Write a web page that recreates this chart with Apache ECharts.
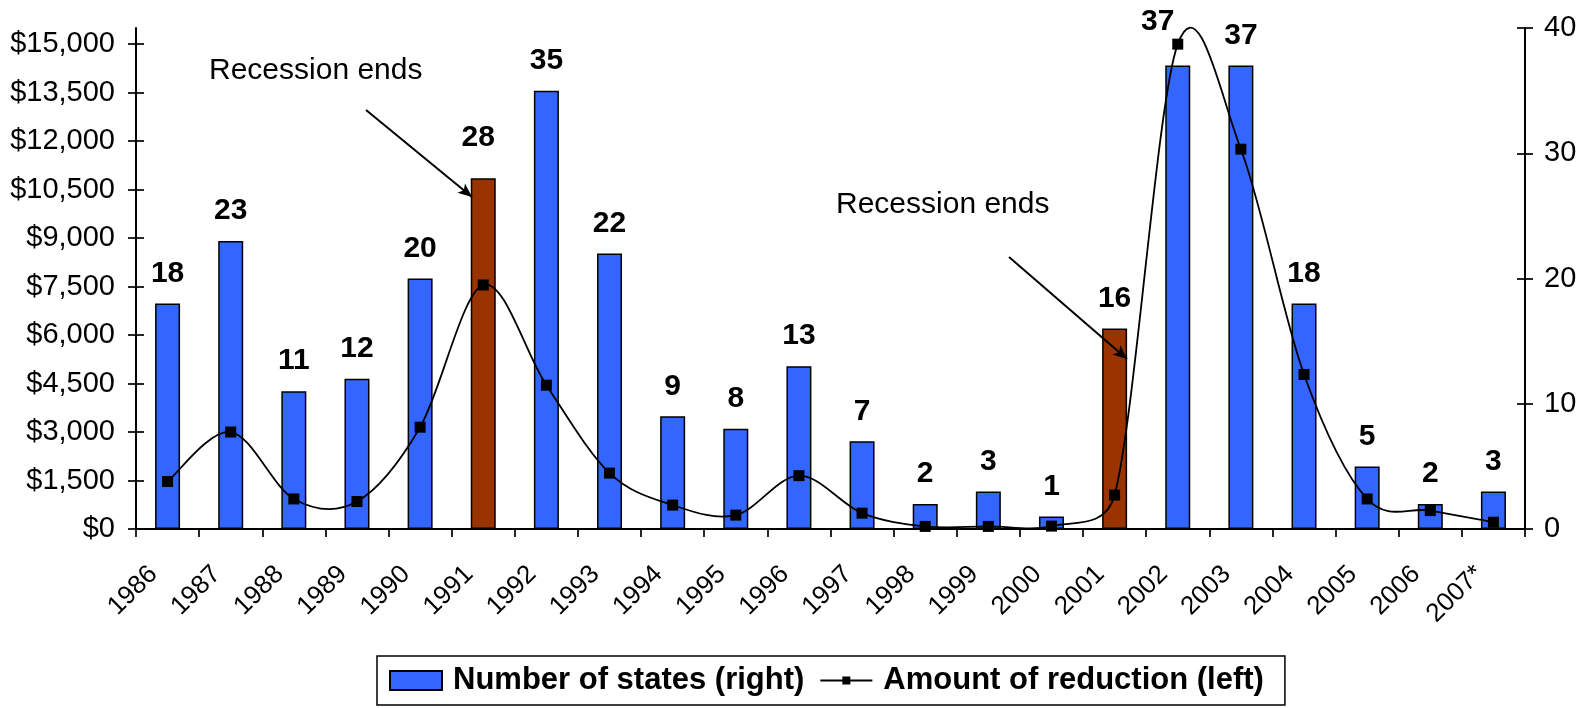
<!DOCTYPE html>
<html>
<head>
<meta charset="utf-8">
<script src="https://cdn.jsdelivr.net/npm/echarts@6/dist/echarts.min.js"></script>
<style>
  html, body { margin: 0; padding: 0; background: #fff; }
  #chart { width: 1591px; height: 708px; }
</style>
</head>
<body>
<div id="chart"></div>
<script>
  // values
  var years = ['1986', '1987', '1988', '1989', '1990', '1991', '1992', '1993', '1994', '1995', '1996',
               '1997', '1998', '1999', '2000', '2001', '2002', '2003', '2004', '2005', '2006', '2007*'];
  var numStates = [18, 23, 11, 12, 20, 28, 35, 22, 9, 8, 13, 7, 2, 3, 1, 16, 37, 37, 18, 5, 2, 3];
  var reduction = [1470, 3000, 930, 850, 3150, 7550, 4450, 1730, 740, 430, 1650, 490, 80, 80, 90,
                   1050, 15000, 11750, 4780, 930, 570, 210];
  var recessionYears = ['1991', '2001'];
  var leftTicks = [0, 1500, 3000, 4500, 6000, 7500, 9000, 10500, 12000, 13500, 15000];
  var rightTicks = [0, 10, 20, 30, 40];

  var FONT = '"Liberation Sans", Arial, sans-serif';
  var BLUE = '#3366FF';
  var BROWN = '#993300';

  // grid box (pixels)
  var G = { left: 136, right: 66, top: 28, bottom: 179 };

  // a few bar labels were nudged by hand in the original
  var labelNudge = { '1991': [-5, -11], '2002': [-20, -14] };

  var barData = years.map(function (y, i) {
    var item = {
      value: numStates[i],
      itemStyle: { color: recessionYears.indexOf(y) >= 0 ? BROWN : BLUE }
    };
    if (labelNudge[y]) item.label = { offset: labelNudge[y] };
    return item;
  });

  var lineData = reduction.map(function (v, i) { return [years[i], v]; });

  function dollar(v) {
    return '$' + Number(v).toLocaleString('en-US');
  }

  // control arm: (b - a) / 6, but never longer than half the segment
  function arm(a, b, segLen) {
    var dx = (b[0] - a[0]) / 6, dy = (b[1] - a[1]) / 6;
    var len = Math.sqrt(dx * dx + dy * dy);
    if (len > segLen / 2 && len > 0) {
      var k = segLen / 2 / len;
      dx *= k; dy *= k;
    }
    return [dx, dy];
  }

  // Excel-style smoothed line, marker on each point
  function renderReduction(params, api) {
    var n = reduction.length;
    var i = params.dataIndex;
    function P(k) {
      k = Math.max(0, Math.min(n - 1, k));
      return api.coord([api.value(0, k), api.value(1, k)]);
    }
    var children = [];
    var p1 = P(i);
    if (i < n - 1) {
      var p0 = P(i - 1), p2 = P(i + 1), p3 = P(i + 2);
      var seg = Math.sqrt(Math.pow(p2[0] - p1[0], 2) + Math.pow(p2[1] - p1[1], 2));
      var a1 = arm(p0, p2, seg);
      var a2 = arm(p1, p3, seg);
      children.push({
        type: 'bezierCurve',
        shape: {
          x1: p1[0], y1: p1[1],
          cpx1: p1[0] + a1[0], cpy1: p1[1] + a1[1],
          cpx2: p2[0] - a2[0], cpy2: p2[1] - a2[1],
          x2: p2[0], y2: p2[1]
        },
        style: { stroke: '#000', lineWidth: 1.8, fill: null }
      });
    }
    children.push({
      type: 'rect',
      shape: { x: p1[0] - 5.5, y: p1[1] - 5.5, width: 11, height: 11 },
      style: { fill: '#000' },
      z2: 10
    });
    return { type: 'group', children: children };
  }

  var axisLineStyle = { color: '#000', width: 2 };
  var tickStyle = { color: '#000', width: 1.7 };

  var chart = echarts.init(document.getElementById('chart'));
  chart.setOption({
    animation: false,
    backgroundColor: '#fff',
    grid: [
      { left: G.left, right: G.right, top: G.top, bottom: G.bottom },
      { left: G.left, right: G.right, top: G.top, bottom: G.bottom }
    ],
    xAxis: [
      {
        type: 'category',
        gridIndex: 0,
        data: years,
        boundaryGap: true,
        axisLine: { lineStyle: axisLineStyle },
        axisTick: { show: true, length: 8, lineStyle: tickStyle },
        axisLabel: {
          rotate: 45,
          interval: 0,
          margin: 27,
          padding: [0, 20, 0, 0],
          fontSize: 26,
          fontFamily: FONT,
          color: '#000'
        }
      },
      { type: 'category', gridIndex: 1, data: years, show: false }
    ],
    yAxis: [
      {
        type: 'value',
        gridIndex: 0,
        position: 'left',
        min: 0,
        max: 15500,
        axisLine: { show: true, lineStyle: axisLineStyle },
        axisTick: { show: true, length: 8, lineStyle: tickStyle, customValues: leftTicks },
        axisLabel: {
          customValues: leftTicks,
          formatter: dollar,
          margin: 21,
          fontSize: 29,
          fontFamily: FONT,
          color: '#000'
        },
        splitLine: { show: false }
      },
      {
        type: 'value',
        gridIndex: 0,
        position: 'right',
        min: 0,
        max: 40,
        interval: 10,
        axisLine: { show: true, lineStyle: axisLineStyle },
        axisTick: { show: true, length: 8, lineStyle: tickStyle, customValues: rightTicks },
        axisLabel: {
          customValues: rightTicks,
          margin: 19,
          fontSize: 29,
          fontFamily: FONT,
          color: '#000'
        },
        splitLine: { show: false }
      },
      // inner halves of the crossing tick marks
      {
        type: 'value', gridIndex: 1, position: 'left', min: 0, max: 15500,
        axisLine: { show: false },
        axisTick: { show: true, inside: true, length: 8, lineStyle: tickStyle, customValues: leftTicks },
        axisLabel: { show: false },
        splitLine: { show: false }
      },
      {
        type: 'value', gridIndex: 1, position: 'right', min: 0, max: 40, interval: 10,
        axisLine: { show: false },
        axisTick: { show: true, inside: true, length: 8, lineStyle: tickStyle, customValues: rightTicks },
        axisLabel: { show: false },
        splitLine: { show: false }
      }
    ],
    legend: {
      left: 377,
      top: 656,
      padding: [9, 21, 9, 12],
      itemGap: 16,
      itemWidth: 52,
      itemHeight: 19,
      borderColor: '#000',
      borderWidth: 1.5,
      textStyle: { fontSize: 31, fontWeight: 'bold', fontFamily: FONT, color: '#000', padding: [0, 0, 0, 6] },
      data: [
        { name: 'Number of states (right)', icon: 'rect' },
        {
          name: 'Amount of reduction (left)',
          icon: 'path://M0,8.5 L22,8.5 L22,5.5 L30,5.5 L30,8.5 L52,8.5 L52,10.5 L30,10.5 L30,13.5 L22,13.5 L22,10.5 L0,10.5 Z',
          itemStyle: { color: '#000', borderWidth: 0 }
        }
      ]
    },
    series: [
      {
        name: 'Number of states (right)',
        type: 'bar',
        xAxisIndex: 0,
        yAxisIndex: 1,
        barWidth: 25,
        data: barData,
        itemStyle: { color: BLUE, borderColor: '#000', borderWidth: 1.5 },
        label: {
          show: true,
          position: 'top',
          distance: 15,
          fontSize: 30,
          fontWeight: 'bold',
          fontFamily: FONT,
          color: '#000'
        },
        z: 2,
        markLine: {
          silent: true,
          symbol: ['none', 'arrow'],
          symbolSize: [9, 14],
          label: { show: false },
          lineStyle: { color: '#000', width: 2, type: 'solid' },
          data: [
            [{ x: 366, y: 110 }, { x: 472, y: 197 }],
            [{ x: 1009, y: 257 }, { x: 1127, y: 359 }]
          ]
        }
      },
      {
        name: 'Amount of reduction (left)',
        type: 'custom',
        xAxisIndex: 0,
        yAxisIndex: 0,
        data: lineData,
        encode: { x: 0, y: 1 },
        itemStyle: { color: '#000' },
        renderItem: renderReduction,
        clip: false,
        z: 5
      }
    ],
    graphic: [
      {
        type: 'text', left: 209, top: 56,
        style: { text: 'Recession ends', font: '30px ' + FONT, fill: '#000' }
      },
      {
        type: 'text', left: 836, top: 190,
        style: { text: 'Recession ends', font: '30px ' + FONT, fill: '#000' }
      }
    ]
  });
</script>
</body>
</html>
